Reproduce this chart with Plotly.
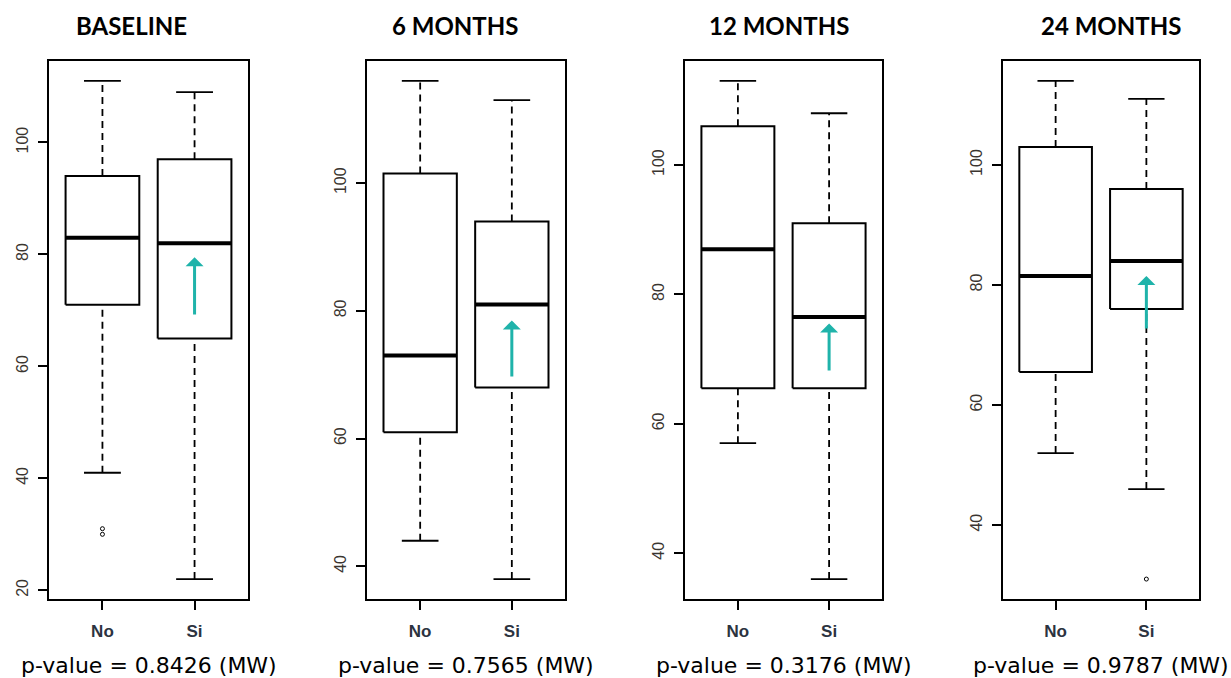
import plotly.graph_objects as go

# ---------------- data ----------------
panel_titles = ["BASELINE", "6 MONTHS", "12 MONTHS", "24 MONTHS"]
group_labels = ["No", "Si"]
p_values = ["0.8426", "0.7565", "0.3176", "0.9787"]

no_lower = [41, 44, 57, 52]
no_q1 = [71, 61, 65.5, 65.5]
no_median = [83, 73, 87, 81.5]
no_q3 = [94, 101.5, 106, 103]
no_upper = [111, 116, 113, 114]
no_outliers = [[30, 31], [], [], []]

si_lower = [22, 38, 36, 46]
si_q1 = [65, 68, 65.5, 76]
si_median = [82, 81, 76.5, 84]
si_q3 = [97, 94, 91, 96]
si_upper = [109, 113, 108, 111]
si_outliers = [[], [], [], [31]]

arrow_tail = [69, 69.5, 68, 72.5]
arrow_head = [79.5, 78.5, 75.5, 81.5]

y_ticks = [[20, 40, 60, 80, 100], [40, 60, 80, 100], [40, 60, 80, 100], [40, 60, 80, 100]]

# ---------------- layout constants ----------------
W, H = 1231, 678
frames_px = [(49, 248), (367, 565), (685, 882), (1003, 1199)]
title_cx = [131, 455, 779, 1111]
frame_top, frame_bot = 61, 599
TEAL = "#1fb3aa"
BOX_HALF = 0.4
CAP_HALF = 0.2

fig = go.Figure()
annotations = []
layout_axes = {}

for i in range(4):
    sfx = "" if i == 0 else str(i + 1)
    xa, ya = "x" + sfx, "y" + sfx
    groups = [
        (no_lower[i], no_q1[i], no_median[i], no_q3[i], no_upper[i], no_outliers[i]),
        (si_lower[i], si_q1[i], si_median[i], si_q3[i], si_upper[i], si_outliers[i]),
    ]
    all_vals = []
    for g, (lo, q1, med, q3, hi, outs) in enumerate(groups):
        c = g + 1
        all_vals += [lo, hi] + list(outs)
        # whiskers (dashed)
        for a, b in ((q3, hi), (lo, q1)):
            fig.add_trace(go.Scatter(x=[c, c], y=[a, b], mode="lines",
                                     line=dict(color="black", width=1.8, dash="7px,5px"),
                                     xaxis=xa, yaxis=ya, showlegend=False, hoverinfo="skip"))
        # staples
        for v in (lo, hi):
            fig.add_trace(go.Scatter(x=[c - CAP_HALF, c + CAP_HALF], y=[v, v], mode="lines",
                                     line=dict(color="black", width=1.8),
                                     xaxis=xa, yaxis=ya, showlegend=False, hoverinfo="skip"))
        # box
        fig.add_trace(go.Scatter(x=[c - BOX_HALF, c + BOX_HALF, c + BOX_HALF, c - BOX_HALF, c - BOX_HALF],
                                 y=[q1, q1, q3, q3, q1], mode="lines",
                                 line=dict(color="black", width=2),
                                 fill="toself", fillcolor="white",
                                 xaxis=xa, yaxis=ya, showlegend=False, hoverinfo="skip"))
        # median
        fig.add_trace(go.Scatter(x=[c - BOX_HALF, c + BOX_HALF], y=[med, med], mode="lines",
                                 line=dict(color="black", width=4),
                                 xaxis=xa, yaxis=ya, showlegend=False, hoverinfo="skip"))
        # outliers
        if outs:
            fig.add_trace(go.Scatter(x=[c] * len(outs), y=outs, mode="markers",
                                     marker=dict(symbol="circle-open", size=4, color="black",
                                                 line=dict(width=1)),
                                     xaxis=xa, yaxis=ya, showlegend=False, hoverinfo="skip"))

    # arrow on the "Si" group
    annotations.append(dict(x=2, y=arrow_head[i], ax=2, ay=arrow_tail[i],
                            xref=xa, yref=ya, axref=xa, ayref=ya,
                            text="", showarrow=True, arrowhead=1, arrowsize=1.0,
                            arrowwidth=3, arrowcolor=TEAL, standoff=0))

    lo_all, hi_all = min(all_vals), max(all_vals)
    pad = 0.04 * (hi_all - lo_all)
    x0, x1 = frames_px[i]
    layout_axes["xaxis" + sfx] = dict(
        domain=[x0 / W, x1 / W], range=[0.42, 2.58], anchor=ya,
        tickvals=[1, 2], ticktext=group_labels,
        ticks="outside", ticklen=9, tickwidth=1.5, tickcolor="black",
        ticklabelstandoff=7,
        tickfont=dict(family="Liberation Sans", size=17, color="#2c3340", weight="bold"),
        showline=True, linecolor="black", linewidth=1.6, mirror=True,
        showgrid=False, zeroline=False, fixedrange=True)
    layout_axes["yaxis" + sfx] = dict(
        domain=[1 - frame_bot / H, 1 - frame_top / H], range=[lo_all - pad, hi_all + pad],
        anchor=xa, tickvals=y_ticks[i], tickangle=-90,
        ticks="outside", ticklen=9, tickwidth=1.5, tickcolor="black",
        ticklabelstandoff=4,
        tickfont=dict(family="Liberation Sans", size=16, color="#3a3530"),
        showline=True, linecolor="black", linewidth=1.6, mirror=True,
        showgrid=False, zeroline=False, fixedrange=True)

    # panel title
    annotations.append(dict(x=title_cx[i] / W, y=1 - 26 / H, xref="paper", yref="paper",
                            text="<b>" + panel_titles[i] + "</b>", showarrow=False,
                            xanchor="center", yanchor="middle",
                            font=dict(family="Lato", size=24, color="black")))
    # p-value caption
    annotations.append(dict(x=(x0 + x1) / 2 / W, y=1 - 665 / H, xref="paper", yref="paper",
                            text="p-value = " + p_values[i] + " (MW)", showarrow=False,
                            xanchor="center", yanchor="middle",
                            font=dict(family="DejaVu Sans", size=22, color="black")))

fig.update_layout(width=W, height=H, margin=dict(l=0, r=0, t=0, b=0),
                  paper_bgcolor="white", plot_bgcolor="white",
                  annotations=annotations, showlegend=False, **layout_axes)

fig.write_html("out.html", config={"displayModeBar": False},
               post_script="document.body.style.margin='0';document.body.style.overflow='hidden';")
